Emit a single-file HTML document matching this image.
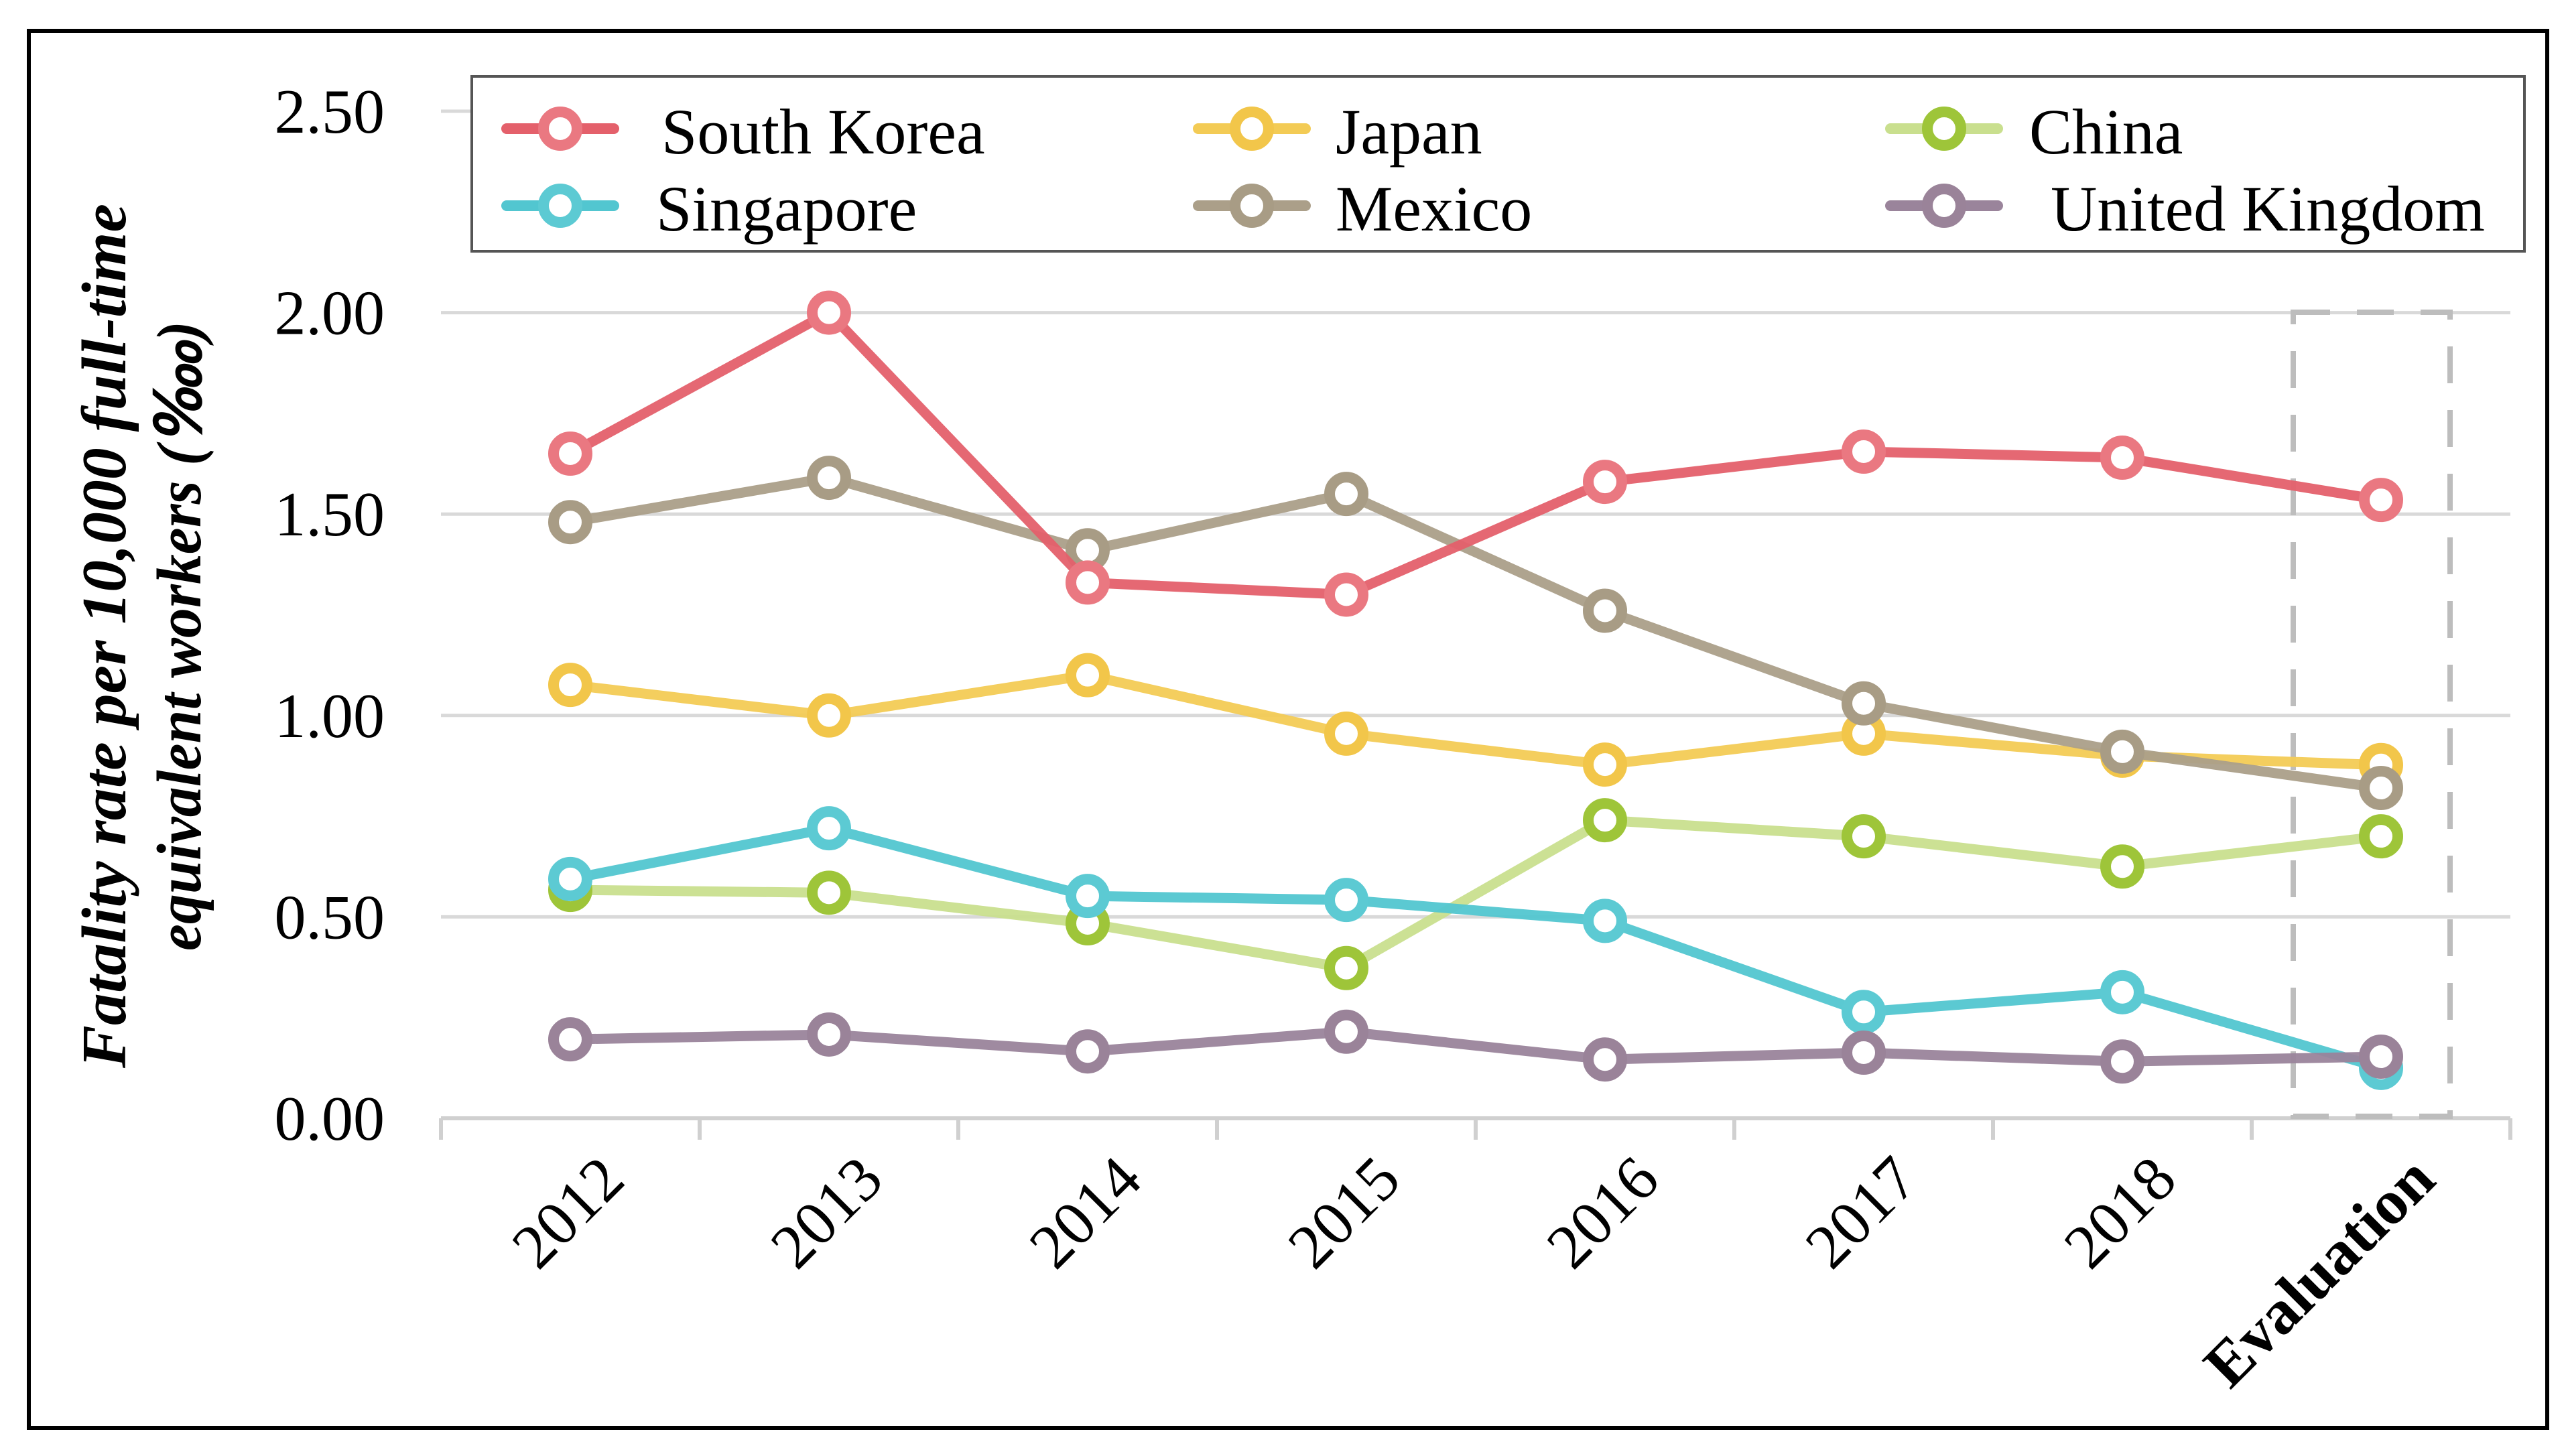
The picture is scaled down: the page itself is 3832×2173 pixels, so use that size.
<!DOCTYPE html>
<html><head><meta charset="utf-8"><style>
html,body{margin:0;padding:0;background:#fff;}
svg{display:block;font-family:"Liberation Serif",serif;}
</style></head><body>
<svg id="chart" width="3832" height="2173" viewBox="0 0 3832 2173" xmlns="http://www.w3.org/2000/svg">
<rect x="43" y="46" width="3758" height="2085" fill="#fff" stroke="#000" stroke-width="6"/>
<g id="grid"></g>
<g id="axis"></g>
<g id="ylabels"></g>
<g id="xlabels"></g>
<rect x="3422" y="466" width="234" height="1200" fill="none" stroke="#bdbdbd" stroke-width="8" stroke-dasharray="55,40"/>
<g id="series"></g>
<g font-weight="bold" font-style="italic" font-size="94">
<text transform="translate(187,949) rotate(-90)" text-anchor="middle" textLength="1290" lengthAdjust="spacingAndGlyphs">Fatality rate per 10,000 full-time</text>
<text transform="translate(299,949) rotate(-90)" text-anchor="middle" textLength="940" lengthAdjust="spacingAndGlyphs">equivalent workers (‱)</text>
</g>
<rect x="704" y="114" width="3063" height="261" fill="#fff" stroke="#555" stroke-width="4"/>
<g id="legend"></g>
</svg>
<script>
const categories = ["2012","2013","2014","2015","2016","2017","2018","Evaluation"];
const yTicks = [0, 0.5, 1.0, 1.5, 2.0, 2.5];
const yTickLabels = ["0.00","0.50","1.00","1.50","2.00","2.50"];
const seriesNames = ["South Korea","Japan","China","Singapore","Mexico","United Kingdom"];
const southKorea = [1.65, 2.00, 1.33, 1.30, 1.58, 1.655, 1.64, 1.535];
const japan = [1.076, 1.00, 1.10, 0.955, 0.878, 0.955, 0.90, 0.877];
const china = [0.567, 0.56, 0.484, 0.373, 0.74, 0.70, 0.625, 0.70];
const singapore = [0.594, 0.72, 0.552, 0.542, 0.49, 0.264, 0.313, 0.125];
const mexico = [1.48, 1.59, 1.41, 1.55, 1.26, 1.03, 0.91, 0.82];
const unitedKingdom = [0.196, 0.208, 0.166, 0.215, 0.146, 0.163, 0.141, 0.153];

const NS = "http://www.w3.org/2000/svg";
const plotL = 658, bandW = 386, y0 = 1669, yPer = 601.2;
function xScale(i){ return plotL + bandW*(i+0.5); }
function yScale(v){ return y0 - v*yPer; }
function mk(tag, attrs, parent){ const e=document.createElementNS(NS,tag); for(const k in attrs) e.setAttribute(k,attrs[k]); parent.appendChild(e); return e; }

const grid=document.getElementById('grid');
yTicks.forEach((t,i)=>{
  if(i===0) return;
  const l=mk('line',{x1:plotL,x2:plotL+bandW*8,y1:yScale(t),y2:yScale(t),stroke:'#d9d9d9','stroke-width':5},grid);
  
  
});
const axis=document.getElementById('axis');
const al=mk('line',{x1:plotL,x2:plotL+bandW*8,y1:y0,y2:y0,stroke:'#d0d0d0','stroke-width':6},axis);


for(let k=0;k<=categories.length;k++){
  const t=mk('line',{x1:plotL+bandW*k,x2:plotL+bandW*k,y1:y0,y2:y0+32,stroke:'#d0d0d0','stroke-width':6},axis);
  
  
}
const yl=document.getElementById('ylabels');
yTicks.forEach((t,i)=>{
  const e=mk('text',{x:574,y:yScale(t)+32,'text-anchor':'end','font-size':94},yl);
  e.textContent=yTickLabels[i];
  
  
});
const xl=document.getElementById('xlabels');
categories.forEach((c,i)=>{
  const x=xScale(i)+85, y=1765;
  const e=mk('text',{transform:`translate(${x},${y}) rotate(-45)`,'text-anchor':'end','font-size':94},xl);
  if(c==='Evaluation') e.setAttribute('font-weight','bold');
  e.textContent=c;
  
  
});

const styles=[
  {line:'#e4606b',mark:'#ea7881'},
  {line:'#f3cb55',mark:'#f2c64a'},
  {line:'#c9df8e',mark:'#9ec539'},
  {line:'#52c6d0',mark:'#5ccad3'},
  {line:'#ab9f89',mark:'#a89c85'},
  {line:'#9a849b',mark:'#9a8399'}
];
const allSeries=[southKorea,japan,china,singapore,mexico,unitedKingdom];
const drawOrder=[2,3,5,1,4,0];
const sg=document.getElementById('series');
drawOrder.forEach(si=>{
  const vals=allSeries[si], st=styles[si];
  const g=mk('g',{},sg);
  
  
  const pts=vals.map((v,i)=>xScale(i)+','+yScale(v)).join(' ');
  const pl=mk('polyline',{points:pts,fill:'none',stroke:st.line,'stroke-width':15,'stroke-linejoin':'round','stroke-opacity':0.95},g);
  
  
  vals.forEach((v,i)=>{
    const c=mk('circle',{cx:xScale(i),cy:yScale(v),r:25,fill:'#fff',stroke:st.mark,'stroke-width':16},g);
    
    
  });
});

const legend=document.getElementById('legend');
const legPos=[[836,987,192],[1868,1993,192],[2901,3028,192],[836,979,307],[1868,1993,307],[2901,3060,307]];
seriesNames.forEach((n,si)=>{
  const [mx,tx,cy]=legPos[si], st=styles[si];
  const g=mk('g',{},legend);
  
  
  mk('line',{x1:mx-80,x2:mx+80,y1:cy,y2:cy,stroke:st.line,'stroke-width':16,'stroke-linecap':'round'},g);
  mk('circle',{cx:mx,cy:cy,r:25,fill:'#fff',stroke:st.mark,'stroke-width':16},g);
  const t=mk('text',{x:tx,y:cy+37,'font-size':96},g);
  t.textContent=n;
  
  
});
</script>
</body></html>
